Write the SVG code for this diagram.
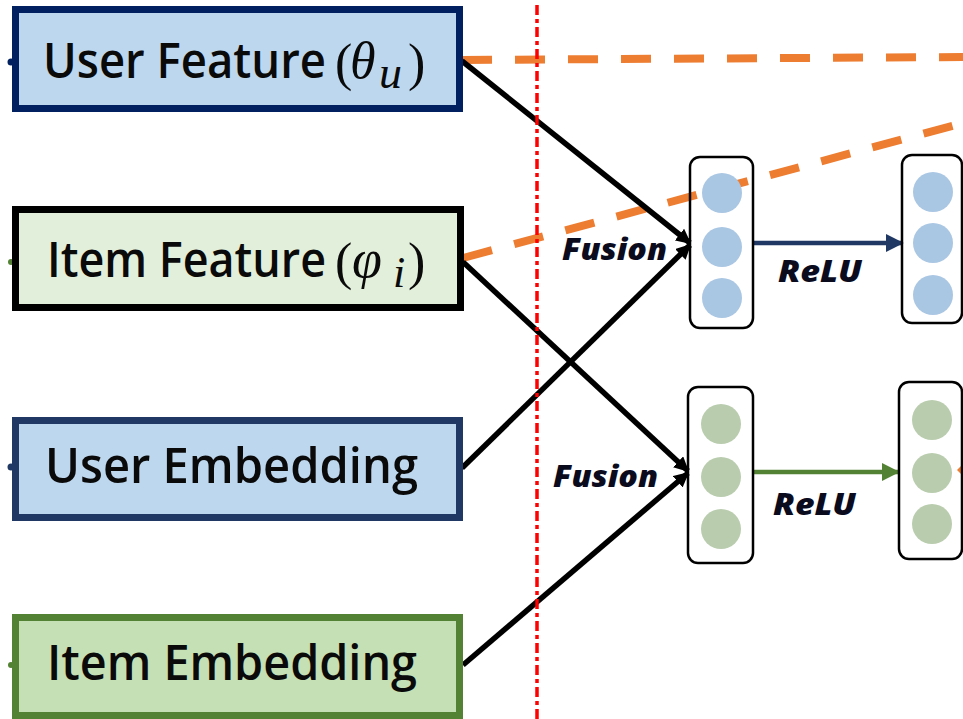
<svg xmlns="http://www.w3.org/2000/svg" width="963" height="719" viewBox="0 0 963 719">
  <style>
    .lbl { font-family: "Open Sans", "Liberation Sans", sans-serif; font-weight: 600; font-size: 49px; fill: #0a0a0a; }
    .math { font-family: "Liberation Serif", "DejaVu Serif", serif; font-style: italic; font-weight: 400; }
    .paren { font-family: "Liberation Serif", "DejaVu Serif", serif; font-weight: 400; font-size: 52px; }
    .op { font-family: "Open Sans", "Liberation Sans", sans-serif; font-weight: 800; font-style: italic; font-size: 30px; fill: #0b0b1e; }
    .feat { stroke-width: 7; }
    .layer { fill: none; stroke: #000; stroke-width: 2.5; }
    .blue { fill: #A9C6E3; }
    .green { fill: #B9CDAE; }
    .fuse { stroke: #000; stroke-width: 5.5; fill: none; marker-end: url(#headBlack); }
    .skip { stroke: #ED7D31; stroke-width: 8; stroke-dasharray: 30 23; fill: none; }
  </style>
  <defs>
    <marker id="headBlack" viewBox="0 0 10 10" refX="9" refY="5" markerWidth="15" markerHeight="15" markerUnits="userSpaceOnUse" orient="auto">
      <path d="M0,0 L10,5 L0,10 z" fill="#000"/>
    </marker>
    <marker id="headNavy" viewBox="0 0 10 10" refX="9" refY="5" markerWidth="18" markerHeight="18" markerUnits="userSpaceOnUse" orient="auto">
      <path d="M0,0 L10,5 L0,10 z" fill="#203864"/>
    </marker>
    <marker id="headGreen" viewBox="0 0 10 10" refX="9" refY="5" markerWidth="18" markerHeight="18" markerUnits="userSpaceOnUse" orient="auto">
      <path d="M0,0 L10,5 L0,10 z" fill="#548235"/>
    </marker>
  </defs>

  <rect width="963" height="719" fill="#fff"/>

  <!-- connectors -->
  <g id="connectors">
    <line class="skip" x1="462" y1="60" x2="963" y2="57"/>
    <line class="skip" x1="463" y1="258" x2="963" y2="123"/>
    <line class="fuse" x1="462" y1="61" x2="690" y2="243"/>
    <line class="fuse" x1="462" y1="468" x2="690" y2="245"/>
    <line class="fuse" x1="463" y1="262" x2="688" y2="471"/>
    <line class="fuse" x1="463" y1="665" x2="688" y2="473"/>
    <line x1="753" y1="243" x2="902" y2="243" stroke="#203864" stroke-width="4.5" marker-end="url(#headNavy)"/>
    <line x1="753" y1="472" x2="898" y2="472" stroke="#548235" stroke-width="4.5" marker-end="url(#headGreen)"/>
    <path d="M957,470 L963,464 L963,476 z" fill="#ED7D31"/>
    <circle cx="11" cy="62" r="3.5" fill="#002060"/>
    <circle cx="11" cy="262" r="3" fill="#548235"/>
    <circle cx="11" cy="467" r="3.5" fill="#203864"/>
    <circle cx="11" cy="665" r="3" fill="#548235"/>
  </g>

  <!-- input feature nodes -->
  <g id="user-feature">
    <rect class="feat" x="15.5" y="9.5" width="444" height="99" fill="#BDD7EE" stroke="#002060"/>
    <text class="lbl" x="43" y="78"><tspan textLength="283" lengthAdjust="spacingAndGlyphs">User Feature</tspan><tspan class="paren" x="335" y="80">(</tspan><tspan class="math" x="350" y="78" font-size="52">θ</tspan><tspan class="math" x="379" y="88" font-size="46">u</tspan><tspan class="paren" x="408" y="80">)</tspan></text>
  </g>
  <g id="item-feature">
    <rect class="feat" x="15.5" y="209.5" width="445" height="98" fill="#E2EFDA" stroke="#000"/>
    <text class="lbl" x="47" y="277"><tspan textLength="279" lengthAdjust="spacingAndGlyphs">Item Feature</tspan><tspan class="paren" x="335" y="279">(</tspan><tspan class="math" x="352" y="277" font-size="54">φ</tspan><tspan class="math" x="393" y="287" font-size="44">i</tspan><tspan class="paren" x="408" y="279">)</tspan></text>
  </g>
  <g id="user-embedding">
    <rect class="feat" x="15.5" y="420.5" width="444" height="97" fill="#BDD7EE" stroke="#203864"/>
    <text class="lbl" x="45" y="483" textLength="373" lengthAdjust="spacingAndGlyphs">User Embedding</text>
  </g>
  <g id="item-embedding">
    <rect class="feat" x="15.5" y="617.5" width="444" height="98" fill="#C5E0B4" stroke="#548235"/>
    <text class="lbl" x="47" y="680" textLength="370" lengthAdjust="spacingAndGlyphs">Item Embedding</text>
  </g>

  <!-- hidden layers -->
  <g id="user-layer-1">
    <rect class="layer" x="690" y="157" width="63" height="171" rx="10"/>
    <circle class="blue" cx="722" cy="193" r="20"/>
    <circle class="blue" cx="722" cy="247" r="20"/>
    <circle class="blue" cx="722" cy="298" r="20"/>
  </g>
  <g id="user-layer-2">
    <rect class="layer" x="902" y="155" width="60" height="168" rx="10"/>
    <circle class="blue" cx="933" cy="192" r="20"/>
    <circle class="blue" cx="933" cy="243" r="20"/>
    <circle class="blue" cx="933" cy="295" r="20"/>
  </g>
  <g id="item-layer-1">
    <rect class="layer" x="688" y="387" width="65" height="176" rx="10"/>
    <circle class="green" cx="721" cy="424" r="20"/>
    <circle class="green" cx="721" cy="477" r="20"/>
    <circle class="green" cx="721" cy="529" r="20"/>
  </g>
  <g id="item-layer-2">
    <rect class="layer" x="899" y="382" width="63" height="177" rx="10"/>
    <circle class="green" cx="932" cy="420" r="20"/>
    <circle class="green" cx="932" cy="473" r="20"/>
    <circle class="green" cx="932" cy="524" r="20"/>
  </g>

  <!-- operation labels -->
  <g id="labels">
    <text class="op" x="562" y="260" textLength="105" lengthAdjust="spacingAndGlyphs">Fusion</text>
    <text class="op" x="778" y="282" textLength="84" lengthAdjust="spacingAndGlyphs">ReLU</text>
    <text class="op" x="553" y="487" textLength="105" lengthAdjust="spacingAndGlyphs">Fusion</text>
    <text class="op" x="773" y="515" textLength="83" lengthAdjust="spacingAndGlyphs">ReLU</text>
  </g>

  <!-- divider -->
  <line x1="537" y1="5" x2="537" y2="719" stroke="#FF0000" stroke-width="3.5" stroke-dasharray="10 4 4 4"/>
</svg>
